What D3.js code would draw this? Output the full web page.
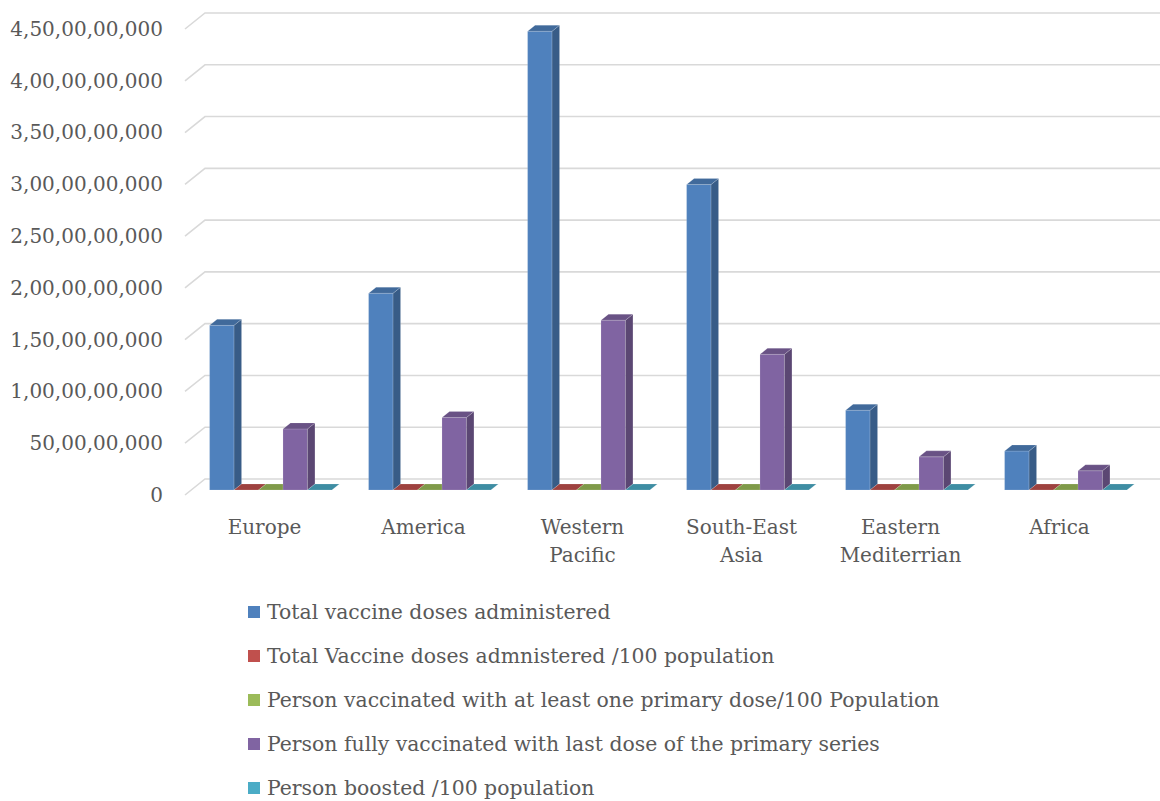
<!DOCTYPE html>
<html>
<head>
<meta charset="utf-8">
<script src="https://cdn.jsdelivr.net/npm/d3@7"></script>
<style>
  html, body { margin: 0; padding: 0; background: #fff; }
  svg { display: block; }
  text { font-family: "DejaVu Serif", "Liberation Serif", serif; fill: #595959; }
</style>
</head>
<body>
<svg id="chart" width="1160" height="801"></svg>
<script>
// Regions shown along the category axis (line breaks mark wrapped labels)
const categories = ["Europe", "America", "Western\nPacific", "South-East\nAsia", "Eastern\nMediterrian", "Africa"];

// Series names, in drawing order
const seriesNames = [
  "Total vaccine doses administered",
  "Total Vaccine doses admnistered /100 population",
  "Person vaccinated with at least one primary dose/100 Population",
  "Person fully vaccinated with last dose of the primary series",
  "Person boosted /100 population"
];
const seriesColors = ["#4F81BD", "#C0504D", "#9BBB59", "#8064A2", "#4BACC6"];

// Values per region
const totalDoses      = [1590000000, 1900000000, 4430000000, 2950000000, 770000000, 376000000];
const dosesPer100     = [170, 186, 234, 160, 100, 38];
const oneDosePer100   = [71, 80, 85, 72, 50, 28];
const fullyVaccinated = [590000000, 700000000, 1640000000, 1310000000, 320000000, 186000000];
const boostedPer100   = [50, 50, 60, 20, 15, 4];

const seriesValues = [totalDoses, dosesPer100, oneDosePer100, fullyVaccinated, boostedPer100];

// Value axis ticks
const yTicks = [0, 500000000, 1000000000, 1500000000, 2000000000, 2500000000,
                3000000000, 3500000000, 4000000000, 4500000000];

// Indian digit grouping: 4,50,00,00,000
function indianFormat(n) {
  const s = String(Math.round(n));
  if (s.length <= 3) return s;
  const last3 = s.slice(-3);
  let rest = s.slice(0, -3);
  const parts = [];
  while (rest.length > 2) { parts.unshift(rest.slice(-2)); rest = rest.slice(0, -2); }
  if (rest.length) parts.unshift(rest);
  return parts.join(",") + "," + last3;
}

const svg = d3.select("#chart");

// Back-wall geometry and oblique depth offset (back -> front)
const wallLeft = 205, wallRight = 1159;
const depthDX = -20, depthDY = 16;
const barFront = 0.6875, barBack = 0.3125;

const y = d3.scaleLinear().domain([0, 4500000000]).range([479, 13]);
const x = d3.scaleBand().domain(categories).range([wallLeft, wallRight]).padding(0);
const gapRatio = 1.5;
const barW = x.bandwidth() / (seriesNames.length + gapRatio);
const xs = d3.scaleBand().domain(d3.range(seriesNames.length))
  .range([barW * gapRatio / 2, x.bandwidth() - barW * gapRatio / 2]).padding(0);

const P = (px, v, d) => [px + depthDX * d, y(v) + depthDY * d];

// Gridlines: side-wall diagonal plus back-wall horizontal
const grid = svg.append("g");
yTicks.forEach(t => {
  const a = P(wallLeft, t, 1), b = P(wallLeft, t, 0), c = P(wallRight + 1, t, 0);
  grid.append("polyline")
    .attr("points", [a, b, c].map(p => p.join(",")).join(" "))
    .attr("fill", "none").attr("stroke", "#D9D9D9").attr("stroke-width", 1.6);
});

// Value axis labels, aligned to the front end of each gridline
const axis = d3.axisLeft(y).tickValues(yTicks).tickFormat(indianFormat).tickSize(0).tickPadding(0);
const axisG = svg.append("g").attr("transform", `translate(163,${depthDY})`).call(axis);
axisG.select(".domain").remove();
axisG.selectAll("text").attr("font-size", 20).attr("fill", "#595959")
  .attr("font-family", '"DejaVu Serif", serif');

// 3D columns
const bars = svg.append("g");
categories.forEach((cat, ci) => {
  seriesNames.forEach((name, si) => {
    const v = seriesValues[si][ci];
    const x0 = x(cat) + xs(si), x1 = x0 + xs.bandwidth();
    const base = d3.color(seriesColors[si]);
    const sideCol = base.darker(0.95).formatHex();
    const topCol = base.darker(0.55).formatHex();
    const g = bars.append("g");
    const poly = (pts, fill) => g.append("polygon")
      .attr("points", pts.map(p => p.join(",")).join(" "))
      .attr("fill", fill)
      .attr("stroke", "rgba(255,255,255,0.25)").attr("stroke-width", 0.6);
    // front face
    poly([P(x0, 0, barFront), P(x1, 0, barFront), P(x1, v, barFront), P(x0, v, barFront)], base.formatHex());
    // right side face
    poly([P(x1, 0, barFront), P(x1, 0, barBack), P(x1, v, barBack), P(x1, v, barFront)], sideCol);
    // top face
    poly([P(x0, v, barFront), P(x1, v, barFront), P(x1, v, barBack), P(x0, v, barBack)], topCol);
  });
});

// Category labels, centred on the front edge of the floor
const catG = svg.append("g");
categories.forEach(cat => {
  const cx = x(cat) + x.bandwidth() / 2 + depthDX;
  const lines = cat.split("\n");
  const t = catG.append("text").attr("text-anchor", "middle").attr("font-size", 20);
  lines.forEach((ln, i) => {
    t.append("tspan").attr("x", cx).attr("y", 534 + i * 28).text(ln);
  });
});

// Legend
const leg = svg.append("g").attr("transform", "translate(248,0)");
seriesNames.forEach((name, i) => {
  const cy = 612 + i * 44;
  leg.append("rect").attr("x", 0).attr("y", cy - 6).attr("width", 12).attr("height", 12)
    .attr("fill", seriesColors[i]);
  leg.append("text").attr("x", 19).attr("y", cy).attr("dy", "0.35em")
    .attr("font-size", 20.4).text(name);
});
</script>
</body>
</html>
